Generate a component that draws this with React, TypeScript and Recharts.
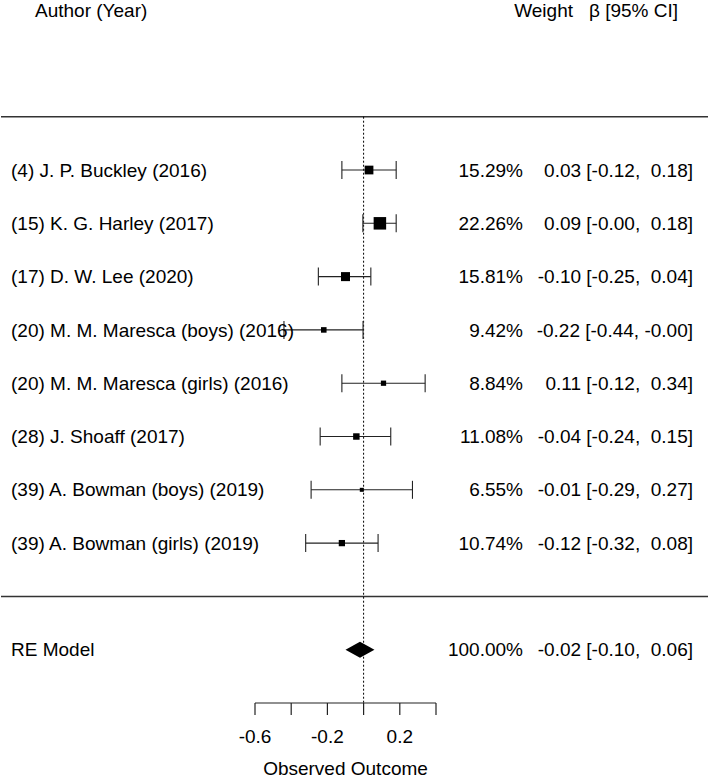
import {
  ErrorBar,
  ReferenceLine,
  Scatter,
  ScatterChart,
  XAxis,
  YAxis,
} from "recharts";

const STUDY_LABELS = [
  "(4) J. P. Buckley (2016)",
  "(15) K. G. Harley (2017)",
  "(17) D. W. Lee (2020)",
  "(20) M. M. Maresca (boys) (2016)",
  "(20) M. M. Maresca (girls) (2016)",
  "(28) J. Shoaff (2017)",
  "(39) A. Bowman (boys) (2019)",
  "(39) A. Bowman (girls) (2019)",
];
const WEIGHTS = [15.29, 22.26, 15.81, 9.42, 8.84, 11.08, 6.55, 10.74];
const ESTIMATES = [0.03, 0.09, -0.1, -0.22, 0.11, -0.04, -0.01, -0.12];
const CI_LOWER = [-0.12, -0.004, -0.25, -0.44, -0.12, -0.24, -0.29, -0.32];
const CI_UPPER = [0.18, 0.18, 0.04, -0.003, 0.34, 0.15, 0.27, 0.08];

const RE_LABEL = "RE Model";
const RE_WEIGHT = 100;
const RE_EST = -0.02;
const RE_LO = -0.1;
const RE_HI = 0.06;

const X_TICKS = [-0.6, -0.4, -0.2, 0, 0.2, 0.4];
const X_TICK_LABELS = ["-0.6", "", "-0.2", "", "0.2", ""];

const HEADER_ROW = -2;
const RE_ROW = 10;
const AXIS_ROW = 11;

// layout
const W = 708;
const H = 780;
const Y_AXIS_W = 1;
const PX_PER_UNIT = 181;
const X_MIN = -0.6 - 254 / PX_PER_UNIT;
const X_MAX = X_MIN + (W - Y_AXIS_W) / PX_PER_UNIT;
const Y_MIN = -2.19;
const FONT = "'Liberation Sans', Arial, sans-serif";
const FS = 19;
const LABEL_X = 11;
const WEIGHT_X = 523;
const CI_X = 693;

const fmt = (v: number) => v.toFixed(2).padStart(5, " ");
const ciText = (est: number, lo: number, hi: number) =>
  `${fmt(est)} [${fmt(lo)}, ${fmt(hi)}]`;

const studies = STUDY_LABELS.map((label, i) => ({
  row: i + 1,
  label,
  weight: WEIGHTS[i],
  est: ESTIMATES[i],
  lo: CI_LOWER[i],
  hi: CI_UPPER[i],
  err: [ESTIMATES[i] - CI_LOWER[i], CI_UPPER[i] - ESTIMATES[i]],
}));

const reModel = [
  { row: RE_ROW, label: RE_LABEL, weight: RE_WEIGHT, est: RE_EST, lo: RE_LO, hi: RE_HI },
];

const minW = Math.min(...WEIGHTS);
const maxW = Math.max(...WEIGHTS);
const squareSize = (w: number) => 4 + ((w - minW) / (maxW - minW)) * 8.5;

const rowTicks = [HEADER_ROW, ...studies.map((s) => s.row), RE_ROW];

const textProps = {
  fontSize: FS,
  fill: "#000",
  fontFamily: FONT,
  dy: "0.35em",
  style: { whiteSpace: "pre" as const },
};

function RowTick(props: any) {
  const { y, payload } = props;
  const v = payload.value;
  if (v === HEADER_ROW) {
    return (
      <g>
        <text x={35} y={y} textAnchor="start" {...textProps}>
          Author (Year)
        </text>
        <text x={573} y={y} textAnchor="end" {...textProps}>
          Weight
        </text>
        <text x={678} y={y} textAnchor="end" {...textProps}>
          β [95% CI]
        </text>
      </g>
    );
  }
  const r = v === RE_ROW ? reModel[0] : studies.find((s) => s.row === v);
  if (!r) return null;
  return (
    <g>
      <text x={LABEL_X} y={y} textAnchor="start" {...textProps}>
        {r.label}
      </text>
      <text x={WEIGHT_X} y={y} textAnchor="end" {...textProps}>
        {`${r.weight.toFixed(2)}%`}
      </text>
      <text x={CI_X} y={y} textAnchor="end" {...textProps}>
        {ciText(r.est, r.lo, r.hi)}
      </text>
    </g>
  );
}

function XTick(props: any) {
  const { x, y, index } = props;
  const label = X_TICK_LABELS[index];
  if (!label) return null;
  return (
    <text x={x} y={y + 26} textAnchor="middle" fontSize={FS} fill="#000" fontFamily={FONT}>
      {label}
    </text>
  );
}

function Square(props: any) {
  const { cx, cy, payload } = props;
  const s = squareSize(payload.weight);
  return <rect x={cx - s / 2} y={cy - s / 2} width={s} height={s} fill="#000" />;
}

function Diamond(props: any) {
  const { cx, cy, payload } = props;
  const left = cx - (payload.est - payload.lo) * PX_PER_UNIT;
  const right = cx + (payload.hi - payload.est) * PX_PER_UNIT;
  const h = 8;
  return (
    <polygon
      points={`${left},${cy} ${cx},${cy - h} ${right},${cy} ${cx},${cy + h}`}
      fill="#000"
    />
  );
}

export default function App() {
  return (
    <div style={{ position: "absolute", left: 0, top: 0, background: "#fff", fontFamily: FONT }}>
      <ScatterChart width={W} height={H} margin={{ top: 0, right: 0, bottom: 0, left: 0 }}>
        <XAxis
          type="number"
          dataKey="est"
          domain={[X_MIN, X_MAX]}
          allowDataOverflow
          ticks={X_TICKS}
          interval={0}
          axisLine={false}
          tickLine={{ stroke: "#222", strokeWidth: 1.2 }}
          tickSize={12}
          tick={<XTick />}
          height={77}
        />
        <YAxis
          type="number"
          dataKey="row"
          domain={[Y_MIN, AXIS_ROW]}
          allowDataOverflow
          reversed
          ticks={rowTicks}
          interval={0}
          axisLine={false}
          tickLine={false}
          tick={<RowTick />}
          width={Y_AXIS_W}
        />
        <ReferenceLine y={0} stroke="#333" strokeWidth={1.5} />
        <ReferenceLine y={9} stroke="#333" strokeWidth={1.5} />
        <ReferenceLine
          segment={[
            { x: 0, y: 0 },
            { x: 0, y: AXIS_ROW },
          ]}
          stroke="#000"
          strokeDasharray="2 2"
        />
        <ReferenceLine
          segment={[
            { x: X_TICKS[0], y: AXIS_ROW },
            { x: X_TICKS[X_TICKS.length - 1], y: AXIS_ROW },
          ]}
          stroke="#222"
          strokeWidth={1.2}
          label={{
            value: "Observed Outcome",
            position: "bottom",
            offset: 59,
            fontSize: FS,
            fill: "#000",
            fontFamily: FONT,
          }}
        />
        <Scatter data={studies} shape={<Square />} isAnimationActive={false}>
          <ErrorBar dataKey="err" direction="x" width={9} stroke="#222" strokeWidth={1.1} />
        </Scatter>
        <Scatter data={reModel} shape={<Diamond />} isAnimationActive={false} />
      </ScatterChart>
    </div>
  );
}
